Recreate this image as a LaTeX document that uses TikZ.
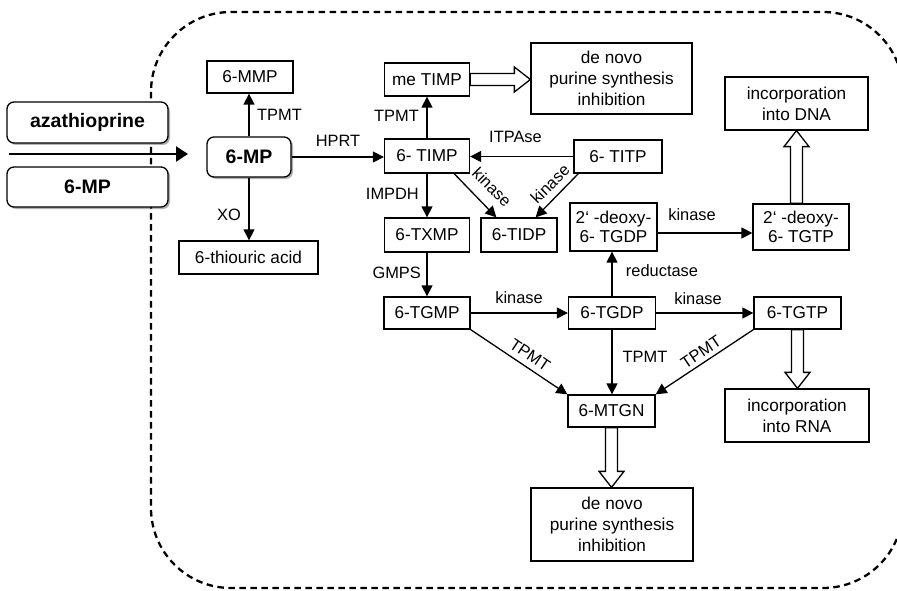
\documentclass[tikz,border=0pt]{standalone}
\usepackage{fontspec}
\setmainfont{Liberation Sans}
\usetikzlibrary{arrows.meta,calc,shadows}

\tikzset{
  txt/.style={font=\fontsize{17.2}{21}\selectfont},
  box/.style={draw, line width=1.3pt, fill=white, inner sep=0pt, align=center, txt},
  rbox/.style={box, rounded corners=7pt, font=\fontsize{19.5}{23}\selectfont\bfseries,
    drop shadow={shadow xshift=2pt, shadow yshift=-2pt, fill=black, opacity=0.3}},
  lbl/.style={inner sep=0pt, font=\fontsize{16.4}{20}\selectfont},
  flow/.style={line width=1.3pt, -{Triangle[length=11pt,width=11pt]}},
  fat/.style={draw, line width=1.3pt, fill=white, line join=miter},
  zone/.style={line width=2.3pt, dash pattern=on 6.5pt off 4.5pt, rounded corners=80pt},
}

% hollow block arrow from #1 to #2 (shaft 12pt, head 25pt wide, 16pt long)
\newcommand\fatarrow[2]{%
  \coordinate (fa-h) at ($(#2)!16pt!(#1)$);
  \draw[fat] ($(#1)!6pt!90:(#2)$) -- ($(fa-h)!6pt!-90:(#1)$) -- ($(fa-h)!12.5pt!-90:(#1)$)
    -- (#2) -- ($(fa-h)!12.5pt!90:(#1)$) -- ($(fa-h)!6pt!90:(#1)$)
    -- ($(#1)!6pt!-90:(#2)$) -- cycle;}

\begin{document}
\begin{tikzpicture}[x=1pt,y=-1pt]
\useasboundingbox (0,0) rectangle (897,591);

% cell boundary (its right side lies just past the edge)
\begin{scope}
  \clip (0,0) rectangle (897,591);
  \draw[zone] (151,12) rectangle (903,588);
\end{scope}

% drugs entering
\node[rbox, minimum width=161pt, minimum height=41pt] (aza) at (87.5,122.5) {azathioprine};
\node[rbox, minimum width=161pt, minimum height=40pt] (mpin) at (87.5,187) {6-MP};
\coordinate (entry) at (9,154);
\coordinate (entryend) at (188,154);
\draw[line width=2.2pt, -{Triangle[length=12pt,width=15pt]}] (entry) -- (entryend);

% metabolites
\node[rbox, minimum width=84pt, minimum height=40pt] (mp) at (249,157) {6-MP};
\node[box, minimum width=86pt, minimum height=32pt] (mmp) at (250,77) {6-MMP};
\node[box, minimum width=139pt, minimum height=33pt] (thio) at (248.5,257.5) {6-thiouric acid};

\node[box, minimum width=85pt, minimum height=33pt] (metimp) at (427,79.5) {me TIMP};
\node[box, minimum width=85pt, minimum height=34pt] (timp) at (427,156) {6- TIMP};
\node[box, minimum width=85pt, minimum height=34pt] (txmp) at (427,235) {6-TXMP};
\node[box, minimum width=86pt, minimum height=32pt] (tgmp) at (427,313) {6-TGMP};

\node[box, minimum width=161pt, minimum height=71pt] (dn1) at (611.5,78.5) {de novo\\purine synthesis\\inhibition};
\node[box, minimum width=76pt, minimum height=34pt] (tidp) at (519,235) {6-TIDP};
\node[box, minimum width=88pt, minimum height=33pt] (titp) at (618,156.5) {6- TITP};
\node[box, minimum width=87pt, minimum height=48pt] (dtgdp) at (613.5,227) {2‘ -deoxy-\\[-2pt]6- TGDP};
\node[box, minimum width=96pt, minimum height=46pt] (dtgtp) at (801,227) {2‘ -deoxy-\\[-2pt]6- TGTP};
\node[box, minimum width=143pt, minimum height=53pt] (dna) at (796.5,103.5) {incorporation\\into DNA};

\node[box, minimum width=87pt, minimum height=32pt] (tgdp) at (612,313) {6-TGDP};
\node[box, minimum width=87pt, minimum height=32pt] (tgtp) at (797.5,313) {6-TGTP};
\node[box, minimum width=87pt, minimum height=32pt] (mtgn) at (611.5,411) {6-MTGN};
\node[box, minimum width=144pt, minimum height=53pt] (rna) at (797,415.5) {incorporation\\into RNA};
\node[box, minimum width=162pt, minimum height=73pt] (dn2) at (612,524.5) {de novo\\purine synthesis\\inhibition};

% reactions
\draw[flow] (mp.north) -- (mp.north |- mmp.south);
\draw[flow] (mp.south) -- (mp.south |- thio.north);
\draw[flow] (mp.east) -- (mp.east -| timp.west);
\draw[flow] (timp.north) -- (metimp.south);
\draw[flow] (timp.south) -- (txmp.north);
\draw[flow] (txmp.south) -- (tgmp.north);
\draw[flow] (titp.west) -- (titp.west -| timp.east);
\draw[flow] ([xshift=-16pt]timp.south east) -- ([xshift=16pt]tidp.north west);
\draw[flow] ([xshift=5pt]titp.south west) -- ([xshift=-22pt]tidp.north east);
\draw[flow] ([yshift=-6pt]dtgdp.east) -- ([yshift=-6pt]dtgdp.east -| dtgtp.west);
\draw[flow] (tgdp.north) -- (tgdp.north |- dtgdp.south);
\draw[flow] (tgmp.east) -- (tgmp.east -| tgdp.west);
\draw[flow] (tgdp.east) -- (tgdp.east -| tgtp.west);
\draw[flow] (tgmp.south east) -- (mtgn.north west);
\draw[flow] (tgdp.south) -- (tgdp.south |- mtgn.north);
\draw[flow] (tgtp.south west) -- (mtgn.north east);

% effects
\coordinate (dn1in) at (metimp.east -| dn1.west);
\fatarrow{metimp.east}{dn1in}
\coordinate (dnaout) at (dna.south |- dtgtp.north);
\fatarrow{dnaout}{dna.south}
\coordinate (rnain) at (tgtp.south |- rna.north);
\fatarrow{tgtp.south}{rnain}
\coordinate (dn2in) at (mtgn.south |- dn2.north);
\fatarrow{mtgn.south}{dn2in}

% enzyme labels
\node[lbl, anchor=west] (l1) at (257,115) {TPMT};
\node[lbl, anchor=east] (l2) at (241,215) {XO};
\node[lbl] (l3) at (338,141) {HPRT};
\node[lbl, anchor=east] (l4) at (419,116) {TPMT};
\node[lbl, anchor=east] (l5) at (419,194) {IMPDH};
\node[lbl, anchor=east] (l6) at (421,273) {GMPS};
\node[lbl] (l7) at (515.5,137) {ITPAse};
\node[lbl, rotate=-45] (l8) at (492,187) {kinase};
\node[lbl, rotate=45] (l9) at (550,184) {kinase};
\node[lbl] (l10) at (692,215) {kinase};
\node[lbl] (l11) at (662,271) {reductase};
\node[lbl] (l12) at (519,298) {kinase};
\node[lbl] (l13) at (698,299) {kinase};
\node[lbl, rotate=-34] (l14) at (530,355) {TPMT};
\node[lbl] (l15) at (645,357) {TPMT};
\node[lbl, rotate=34] (l16) at (701,352) {TPMT};
\end{tikzpicture}
\end{document}
